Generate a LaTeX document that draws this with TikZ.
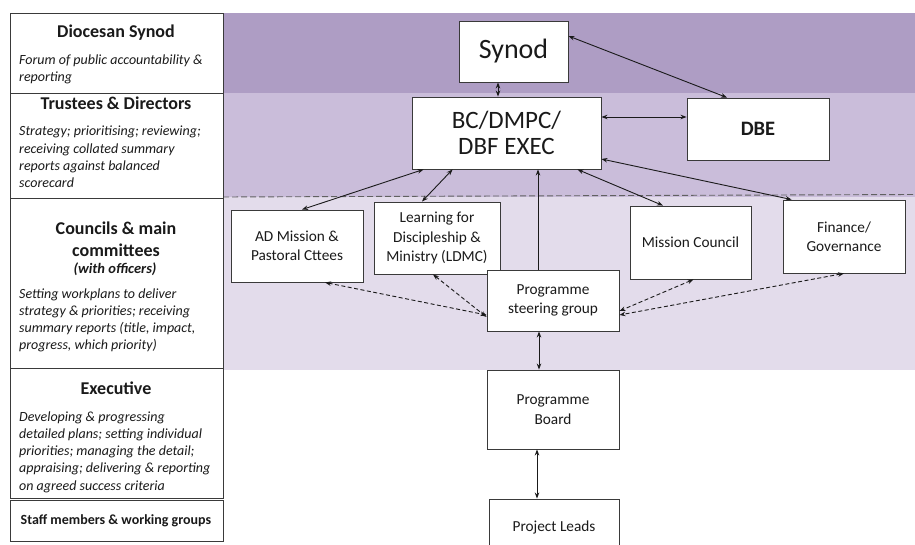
\documentclass[tikz,border=0pt]{standalone}
\usepackage{fontspec}
\setmainfont{Carlito}
\usetikzlibrary{arrows.meta}
\definecolor{bandA}{HTML}{AE9DC4}
\definecolor{bandB}{HTML}{CABDDA}
\definecolor{bandC}{HTML}{E3DCEB}
\definecolor{boxline}{HTML}{3A3A3A}
\definecolor{ink}{HTML}{1A1A1A}
\begin{document}
\begin{tikzpicture}[x=1pt,y=-1pt,
  box/.style={draw=boxline, line width=0.9pt, fill=white, inner sep=0pt, align=center, text=ink,
    font=\fontsize{15.3}{19.5}\selectfont},
  panel/.style={draw=boxline, line width=0.9pt, anchor=north west, inner sep=0pt, minimum width=213pt},
  head/.style={font=\fontsize{18}{22}\selectfont\bfseries, text=ink, inner sep=0pt, align=center},
  desc/.style={font=\fontsize{14}{17.2}\selectfont\itshape, text=ink, inner sep=0pt, align=left, anchor=west},
  tip/.tip={Stealth[length=6pt,width=4.5pt]},
  arr/.style={tip-tip, line width=0.9pt, draw=ink},
  uarr/.style={-tip, line width=0.9pt, draw=ink},
  darr/.style={tip-tip, line width=0.9pt, draw=ink, dash pattern=on 4pt off 2.5pt}]
\clip (0,0) rectangle (915,545);
\fill[white] (0,0) rectangle (915,545);
% bands
\fill[bandA] (223,13) rectangle (915,93);
\fill[bandB] (223,93) rectangle (915,197);
\fill[bandC] (223,197) rectangle (915,370);
\draw[draw=boxline!80, line width=0.9pt, dash pattern=on 6pt off 3pt] (223,197) -- (915,194.5);
% left panel
\node[panel, minimum height=80pt] (p1) at (10,13) {};
\node[panel, minimum height=105pt] (p2) at (10,93) {};
\node[panel, minimum height=170pt] (p3) at (10,198) {};
\node[panel, minimum height=130pt] (p4) at (10,368) {};
\node[panel, minimum height=41pt] (p5) at (10,500) {};
\node[head] (h1) at (116,33) {Diocesan Synod};
\node[desc] (d1) at (19,69.5) {Forum of public accountability \&\\reporting};
\node[head] (h2) at (116,103) {Trustees \& Directors};
\node[desc] (d2) at (19,157) {Strategy; prioritising; reviewing;\\receiving collated summary\\reports against balanced\\scorecard};
\node[head] (h3) at (116,239) {Councils \& main\\committees};
\node[head, font=\fontsize{14.5}{16}\selectfont\bfseries\itshape] (h3b) at (115,269) {(with officers)};
\node[desc] (d3) at (19,320.5) {Setting workplans to deliver\\strategy \& priorities; receiving\\summary reports (title, impact,\\progress, which priority)};
\node[head] (h4) at (116,388) {Executive};
\node[desc] (d4) at (19,452) {Developing \& progressing\\detailed plans; setting individual\\priorities; managing the detail;\\appraising; delivering \& reporting\\on agreed success criteria};
\node[head, font=\fontsize{14}{15}\selectfont\bfseries] (h5) at (116,521) {Staff members \& working groups};
% main nodes
\node[box, minimum width=109pt, minimum height=61pt, font=\fontsize{28}{30}\selectfont] (synod) at (513.5,51.5) {Synod};
\node[box, minimum width=189pt, minimum height=72pt, font=\fontsize{25}{26}\selectfont] (bc) at (506.5,133) {BC/DMPC/\\DBF EXEC};
\node[box, minimum width=142pt, minimum height=62pt, font=\fontsize{20.5}{22}\selectfont\bfseries] (dbe) at (758,129) {DBE};
\node[box, minimum width=132pt, minimum height=72pt] (ad) at (297,246) {AD Mission \&\\Pastoral Cttees};
\node[box, minimum width=126pt, minimum height=72pt] (ldmc) at (437,238) {Learning for\\Discipleship \&\\Ministry (LDMC)};
\node[box, minimum width=132pt, minimum height=61pt] (steer) at (553,300.5) {Programme\\steering group};
\node[box, minimum width=121pt, minimum height=73pt] (mc) at (690.5,242.5) {Mission Council};
\node[box, minimum width=122pt, minimum height=73pt] (fin) at (844,236.5) {Finance/\\Governance};
\node[box, minimum width=132pt, minimum height=79pt] (pb) at (553,409.5) {Programme\\Board};
\node[box, minimum width=130pt, minimum height=56pt] (pl) at (554,527) {Project Leads};
% connectors
\coordinate (vx1) at (498,0);
\coordinate (vx2) at (538,0);
\coordinate (vx3) at (539,0);
\coordinate (vx4) at (537,0);
\draw[arr] (synod.south -| vx1) -- (bc.north -| vx1);
\draw[arr] ([yshift=15.5pt]synod.east) -- ([xshift=-31pt]dbe.north);
\draw[arr] ([yshift=16pt]bc.east) -- ([yshift=16pt]bc.east -| dbe.west);
\draw[arr] ([xshift=12pt]bc.south west) -- ([xshift=5pt]ad.north);
\draw[arr] ([xshift=41pt]bc.south west) -- ([xshift=-15pt]ldmc.north);
\draw[uarr] (steer.north -| vx2) -- (bc.south -| vx2);
\draw[arr] ([xshift=-24pt]bc.south east) -- ([xshift=-27.5pt]mc.north);
\draw[arr] ([yshift=-26pt]bc.east) -- ([xshift=9pt]fin.north west);
\draw[darr] ([xshift=28pt]ad.south) -- ([yshift=-14.5pt]steer.west);
\draw[darr] ([xshift=-4pt]ldmc.south) -- ([yshift=-16.5pt]steer.west);
\draw[darr] ([xshift=3pt]mc.south) -- ([yshift=-10.5pt]steer.east);
\draw[darr] (fin.south) -- ([yshift=-14.5pt]steer.east);
\draw[arr] (steer.south -| vx3) -- (pb.north -| vx3);
\draw[arr] (pb.south -| vx4) -- (pl.north -| vx4);
\end{tikzpicture}
\end{document}
